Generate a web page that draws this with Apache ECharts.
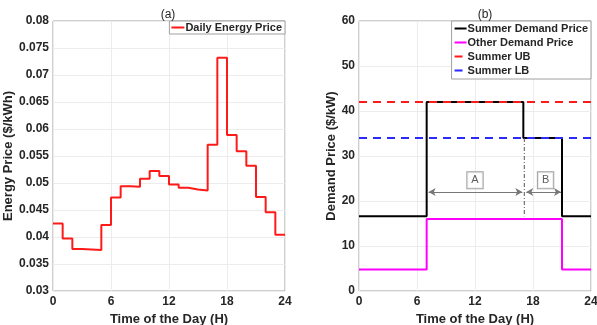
<!DOCTYPE html>
<html>
<head>
<meta charset="utf-8">
<script src="https://cdn.jsdelivr.net/npm/echarts@6/dist/echarts.min.js"></script>
<style>
  html, body { margin: 0; padding: 0; background: #fff; }
  #chart { width: 597px; height: 325px; }
</style>
</head>
<body>
<div id="chart"></div>
<script>
// (a) hourly energy price, value holds from hour h to h+1
const hours = [0, 1, 2, 3, 4, 5, 6, 7, 8, 9, 10, 11, 12, 13, 14, 15, 16, 17, 18, 19, 20, 21, 22, 23, 24];
const energyPrice = [0.0425, 0.0397, 0.0378, 0.0377, 0.0376, 0.0422, 0.0473, 0.0494, 0.0493, 0.0508,
  0.0522, 0.0513, 0.0497, 0.0491, 0.0488, 0.0486, 0.0571, 0.0732, 0.0589, 0.0559,
  0.0532, 0.0474, 0.0446, 0.0404, 0.0404];

// (b) demand prices, step points
const summerHours = [0, 7, 17, 21, 24];
const summerDemand = [16.6, 42, 34, 16.6, 16.6];
const otherHours = [0, 7, 21, 24];
const otherDemand = [4.8, 16, 4.8, 4.8];
const summerUB = 42;
const summerLB = 34;

// annotations
const splitHour = 17.1;
const spanA = [7.2, 16.9];
const spanB = [17.3, 20.9];
const arrowLevel = 22;
const boxLabels = [['A', 12, 24.6], ['B', 19.3, 24.6]];

const tickColor = '#262626';
const frameColor = '#a0a0a0';
const gridLineColor = '#ececec';
const fontFamily = '"Liberation Sans", Arial, sans-serif';

const chart = echarts.init(document.getElementById('chart'));

function xAxis(gridIndex) {
  return {
    type: 'value', gridIndex, min: 0, max: 24, interval: 6,
    name: 'Time of the Day (H)', nameLocation: 'middle', nameGap: 14,
    nameTextStyle: { color: tickColor, fontWeight: 'bold', fontSize: 13, fontFamily },
    axisLine: { show: false }, axisTick: { show: false },
    axisLabel: { color: tickColor, fontWeight: 'bold', fontSize: 12, fontFamily, margin: 5 },
    splitLine: { show: true, lineStyle: { color: gridLineColor } },
  };
}

function yAxis(gridIndex, min, max, interval, name, fmt) {
  return {
    type: 'value', gridIndex, min, max, interval,
    name, nameLocation: 'middle', nameGap: gridIndex === 0 ? 31 : 14,
    nameTextStyle: { color: tickColor, fontWeight: 'bold', fontSize: 13, fontFamily },
    axisLine: { show: false }, axisTick: { show: false },
    axisLabel: { color: tickColor, fontWeight: 'bold', fontSize: 12, fontFamily, margin: 4, formatter: fmt },
    splitLine: { show: true, lineStyle: { color: gridLineColor } },
  };
}

const energyFmt = v => String(parseFloat(v.toFixed(3)));

chart.setOption({
  animation: false,
  textStyle: { fontFamily },
  title: [
    { text: '(a)', left: 163, top: 4, textAlign: 'center',
      textStyle: { fontSize: 12, fontWeight: 'normal', color: tickColor, fontFamily } },
    { text: '(b)', left: 480, top: 4, textAlign: 'center',
      textStyle: { fontSize: 12, fontWeight: 'normal', color: tickColor, fontFamily } },
  ],
  grid: [
    { left: 53, right: 312, top: 21, bottom: 34, outerBoundsMode: 'none',
      show: true, borderColor: frameColor, borderWidth: 1 },
    { left: 359, right: 6, top: 21, bottom: 34, outerBoundsMode: 'none',
      show: true, borderColor: frameColor, borderWidth: 1 },
  ],
  legend: [
    {
      data: ['Daily Energy Price'], right: 312, top: 21, orient: 'vertical',
      itemWidth: 13, itemHeight: 2, itemGap: 4, padding: [1, 3, 1, 1],
      backgroundColor: '#fff', borderColor: frameColor, borderWidth: 1, borderRadius: 0,
      textStyle: { color: tickColor, fontWeight: 'bold', fontSize: 11, fontFamily, padding: [0, 0, 0, -4] },
    },
    {
      data: ['Summer Demand Price', 'Other Demand Price', 'Summer UB', 'Summer LB'],
      right: 6, top: 21, orient: 'vertical',
      itemWidth: 12, itemHeight: 2, itemGap: 3, padding: [2, 3, 3, 2],
      backgroundColor: '#fff', borderColor: frameColor, borderWidth: 1, borderRadius: 0,
      textStyle: { color: tickColor, fontWeight: 'bold', fontSize: 11, fontFamily, padding: [0, 0, 0, -4] },
    },
  ],
  xAxis: [xAxis(0), xAxis(1)],
  yAxis: [
    yAxis(0, 0.03, 0.08, 0.005, 'Energy Price ($/kWh)', energyFmt),
    yAxis(1, 0, 60, 10, 'Demand Price ($/kW)'),
  ],
  series: [
    {
      name: 'Daily Energy Price', type: 'line', xAxisIndex: 0, yAxisIndex: 0,
      step: 'end', symbol: 'none',
      data: hours.map((h, i) => [h, energyPrice[i]]),
      lineStyle: { color: '#ff1a1a', width: 2 }, itemStyle: { color: '#ff1a1a' },
    },
    {
      name: 'Summer Demand Price', type: 'line', xAxisIndex: 1, yAxisIndex: 1,
      step: 'end', symbol: 'none',
      data: summerHours.map((h, i) => [h, summerDemand[i]]),
      lineStyle: { color: '#000', width: 2 }, itemStyle: { color: '#000' },
    },
    {
      name: 'Other Demand Price', type: 'line', xAxisIndex: 1, yAxisIndex: 1,
      step: 'end', symbol: 'none',
      data: otherHours.map((h, i) => [h, otherDemand[i]]),
      lineStyle: { color: '#ff00ff', width: 2 }, itemStyle: { color: '#ff00ff' },
    },
    {
      name: 'Summer UB', type: 'line', xAxisIndex: 1, yAxisIndex: 1, symbol: 'none',
      data: [[0, summerUB], [24, summerUB]],
      lineStyle: { color: '#ff1a1a', width: 2, type: [8, 6] }, itemStyle: { color: '#ff1a1a' },
    },
    {
      name: 'Summer LB', type: 'line', xAxisIndex: 1, yAxisIndex: 1, symbol: 'none',
      data: [[0, summerLB], [24, summerLB]],
      lineStyle: { color: '#2a2aff', width: 2, type: [8, 6] }, itemStyle: { color: '#2a2aff' },
    },
    {
      name: 'annotations', type: 'line', xAxisIndex: 1, yAxisIndex: 1, symbol: 'none',
      data: [[splitHour, summerLB], [splitHour, summerDemand[0]]],
      lineStyle: { color: '#555', width: 1, type: [4, 2, 1, 2] },
      markLine: {
        silent: true, symbol: ['arrow', 'arrow'], symbolSize: [6, 7],
        lineStyle: { color: '#777', width: 1, type: 'solid' },
        label: { show: false },
        data: [
          [{ coord: [spanA[0], arrowLevel] }, { coord: [spanA[1], arrowLevel] }],
          [{ coord: [spanB[0], arrowLevel] }, { coord: [spanB[1], arrowLevel] }],
        ],
      },
    },
    {
      name: 'labels', type: 'scatter', xAxisIndex: 1, yAxisIndex: 1,
      symbolSize: 0, silent: true,
      data: boxLabels.map(b => ({ value: [b[1], b[2]], name: b[0] })),
      label: {
        show: true, position: 'inside', formatter: p => p.name,
        color: '#333', fontSize: 11, fontFamily,
        backgroundColor: '#fff', borderColor: '#888', borderWidth: 1,
        padding: [3, 4, 2, 4],
      },
    },
  ],
});
</script>
</body>
</html>
